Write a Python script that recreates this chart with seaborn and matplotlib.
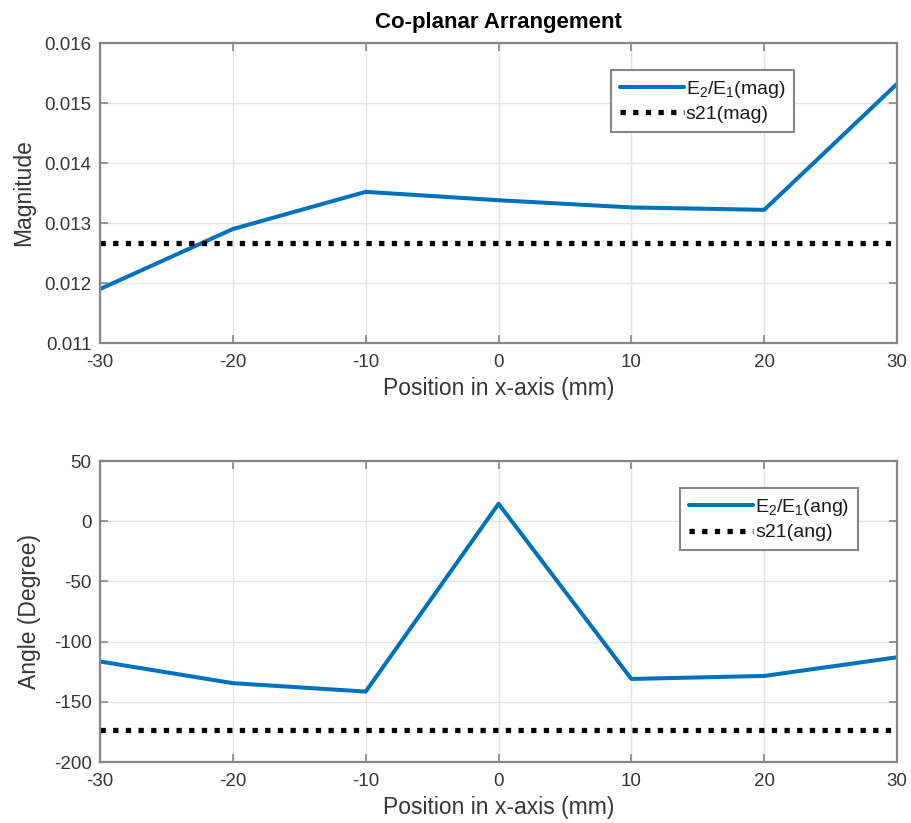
import numpy as np
import pandas as pd
import matplotlib
matplotlib.use("Agg")
import matplotlib.pyplot as plt
import seaborn as sns

# Probe positions along the x-axis (mm)
position_mm = [-30, -20, -10, 0, 10, 20, 30]

# Field ratio E2/E1: magnitude and phase at each position
ratio_mag = [0.01190, 0.01290, 0.01352, 0.01338, 0.01326, 0.01322, 0.01532]
ratio_ang = [-116.5, -134.5, -141.5, 14.5, -131.0, -128.5, -113.0]

# Reference transmission coefficient s21
s21_mag = 0.01267
s21_ang = -173.0

sns.set_theme(style="whitegrid")
plt.rcParams["font.family"] = ["Liberation Sans", "DejaVu Sans"]
plt.rcParams["mathtext.fontset"] = "custom"
plt.rcParams["mathtext.rm"] = "Liberation Sans"
plt.rcParams["mathtext.it"] = "Liberation Sans"

BLUE = "#0072BD"
SPINE = "#868686"
TEXT = "#363636"

df = pd.DataFrame({"pos": position_mm, "mag": ratio_mag, "ang": ratio_ang})

fig = plt.figure(figsize=(9.11, 8.23), dpi=100)
ax1 = fig.add_axes([0.1098, 0.5832, 0.8749, 0.3645])
ax2 = fig.add_axes([0.1098, 0.0741, 0.8749, 0.3657])


def style_axes(ax):
    ax.set_facecolor("white")
    ax.grid(True, color="#e4e4e4", linewidth=1.0)
    for sp in ax.spines.values():
        sp.set_color(SPINE)
        sp.set_linewidth(1.6)
    ax.tick_params(direction="in", length=6, width=1.2, color=SPINE,
                   labelsize=13.5, labelcolor=TEXT, top=True, right=True,
                   bottom=True, left=True)
    ax.tick_params(axis="x", pad=8)
    ax.tick_params(axis="y", pad=6)
    ax.set_xlim(-30, 30)
    ax.set_xticks(position_mm)
    ax.set_xticklabels([str(v) for v in position_mm])
    ax.set_xlabel("Position in x-axis (mm)", fontsize=16.5, color=TEXT,
                  labelpad=4)


def style_legend(leg):
    leg.get_frame().set_edgecolor(SPINE)
    leg.get_frame().set_linewidth(1.5)
    leg.get_frame().set_alpha(1.0)
    for t in leg.get_texts():
        t.set_color("#1a1a1a")


dotted = (0, (1, 1.4))
leg_kw = dict(fontsize=14, frameon=True, fancybox=False, handlelength=3.3,
              handletextpad=0.1, borderpad=0.45, labelspacing=0.3,
              borderaxespad=0.0)

# Magnitude panel
sns.lineplot(data=df, x="pos", y="mag", ax=ax1, color=BLUE, linewidth=2.9,
             label=r"E$_2$/E$_1$(mag)")
ax1.plot(position_mm, [s21_mag] * len(position_mm), color="black",
         linewidth=3.8, linestyle=dotted, label="s21(mag)")
style_axes(ax1)
ax1.set_ylim(0.011, 0.016)
mag_ticks = [0.011, 0.012, 0.013, 0.014, 0.015, 0.016]
ax1.set_yticks(mag_ticks)
ax1.set_yticklabels([f"{v:.3f}" for v in mag_ticks])
ax1.set_ylabel("Magnitude", fontsize=16.5, color=TEXT, labelpad=7)
ax1.set_title("Co-planar Arrangement", fontsize=16, fontweight="bold",
              color="black", pad=11)
leg1 = ax1.legend(loc="upper right", bbox_to_anchor=(0.871, 0.910), **leg_kw)
style_legend(leg1)

# Phase panel
sns.lineplot(data=df, x="pos", y="ang", ax=ax2, color=BLUE, linewidth=2.9,
             label=r"E$_2$/E$_1$(ang)")
ax2.plot(position_mm, [s21_ang] * len(position_mm), color="black",
         linewidth=3.8, linestyle=dotted, label="s21(ang)")
style_axes(ax2)
ax2.set_ylim(-200, 50)
ang_ticks = [-200, -150, -100, -50, 0, 50]
ax2.set_yticks(ang_ticks)
ax2.set_yticklabels([str(v) for v in ang_ticks])
ax2.set_ylabel("Angle (Degree)", fontsize=16.5, color=TEXT, labelpad=9)
leg2 = ax2.legend(loc="upper right", bbox_to_anchor=(0.951, 0.910), **leg_kw)
style_legend(leg2)

fig.savefig("out.png", dpi=100, facecolor="white")
